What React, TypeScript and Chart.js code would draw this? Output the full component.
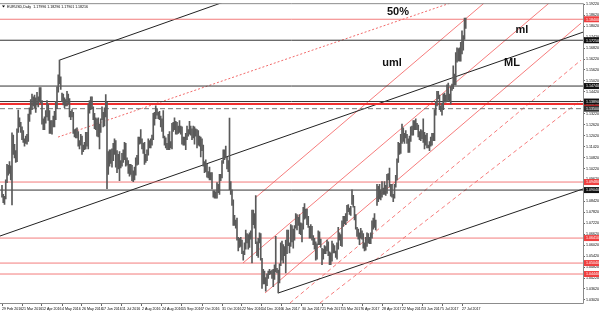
import { useEffect, useRef } from "react";
import { Chart, registerables } from "chart.js";
Chart.register(...registerables);

const dateLabels = [
  "29 Feb 2016", "21 Mar 2016", "12 Apr 2016", "4 May 2016", "26 May 2016", "17 Jun 2016",
  "11 Jul 2016", "2 Aug 2016", "24 Aug 2016", "15 Sep 2016", "7 Oct 2016", "31 Oct 2016",
  "22 Nov 2016", "14 Dec 2016", "6 Jan 2017", "30 Jan 2017", "21 Feb 2017", "15 Mar 2017",
  "6 Apr 2017", "28 Apr 2017", "22 May 2017", "13 Jun 2017", "5 Jul 2017", "27 Jul 2017",
];

const highs = [
  1.0930,
  1.0880,1.0870,1.0960,1.1045,1.1040,1.1060,1.1037,1.1218,1.1205,1.1155,1.1120,1.1240,1.1342,1.1300,1.1275,1.1250,1.1230,1.1185,1.1200,1.1210,1.1320,1.1355,1.1400,
  1.1430,1.1415,1.1425,1.1410,1.1440,1.1415,1.1465,1.1465,1.1395,1.1295,1.1305,1.1340,1.1395,1.1375,1.1340,1.1285,1.1285,1.1310,1.1335,1.1390,1.1470,
  1.1535,1.1616,1.1525,1.1435,1.1430,1.1410,1.1400,1.1445,1.1430,1.1405,1.1335,1.1345,1.1330,1.1235,1.1240,1.1245,1.1225,1.1175,1.1210,1.1200,1.1150,1.1165,
  1.1220,1.1220,1.1375,1.1395,1.1415,1.1415,1.1360,1.1325,1.1300,1.1295,1.1300,1.1265,1.1295,1.1360,1.1330,1.1355,1.1427,1.1385,1.1115,1.1125,1.1125,1.1130,
  1.1160,1.1185,1.1175,1.1120,1.1100,1.1115,1.1065,1.1105,1.1125,1.1165,1.1160,1.1080,1.1065,1.1045,1.1045,1.1040,1.1010,1.1030,1.1080,1.1095,1.1195,
  1.1195,1.1235,1.1185,1.1160,1.1165,1.1100,1.1125,1.1185,1.1175,1.1185,1.1205,1.1325,1.1330,1.1366,1.1350,1.1330,1.1335,1.1310,1.1295,1.1340,1.1200,1.1190,1.1160,
  1.1210,1.1225,1.1170,1.1270,1.1275,1.1300,1.1280,1.1275,1.1255,1.1285,1.1255,1.1250,1.1195,1.1195,1.1215,1.1255,1.1235,1.1280,1.1255,1.1240,1.1255,1.1250,
  1.1240,1.1235,1.1230,1.1200,1.1195,1.1185,1.1150,1.1060,1.1070,1.1045,1.1005,1.1030,1.1000,1.1000,1.0900,1.0900,1.0895,1.0945,1.0935,1.0990,1.0990,
  1.1065,1.1125,1.1125,1.1145,1.1085,1.1065,1.1299,1.0950,1.0905,1.0850,1.0765,1.0740,1.0750,1.0645,1.0640,1.0645,1.0630,1.0570,1.0615,1.0685,1.0665,1.0660,
  1.0670,1.0680,1.0795,1.0795,1.0775,1.0874,1.0620,1.0640,1.0670,1.0665,1.0530,1.0470,1.0460,1.0425,1.0445,1.0460,1.0470,1.0460,1.0465,1.0470,1.0495,1.0650,
  1.0475,1.0465,1.0500,1.0615,1.0625,1.0605,1.0595,1.0630,1.0685,1.0685,1.0615,1.0715,1.0710,1.0690,1.0710,1.0775,1.0770,1.0755,1.0770,1.0725,1.0720,1.0810,
  1.0830,1.0800,1.0800,1.0760,1.0705,1.0715,1.0705,1.0655,1.0640,1.0620,1.0610,1.0680,1.0675,1.0635,1.0585,1.0580,1.0600,1.0595,1.0630,1.0620,
  1.0565,1.0560,1.0625,1.0610,1.0600,1.0570,1.0615,1.0700,1.0670,1.0660,1.0735,1.0760,1.0760,1.0775,1.0820,1.0825,1.0805,1.0815,1.0905,1.0875,1.0815,1.0770,1.0700,
  1.0690,1.0670,1.0695,1.0680,1.0665,1.0615,1.0645,1.0670,1.0665,1.0645,1.0670,1.0735,1.0750,1.0775,1.0740,1.0935,1.0925,1.0935,1.0905,1.0950,
  1.0915,1.0950,1.0930,1.0990,1.0995,1.1025,1.0935,1.0935,1.0880,1.0935,1.0985,1.1075,1.1165,1.1160,1.1210,1.1265,1.1245,1.1215,1.1230,1.1210,1.1185,1.1200,1.1250,
  1.1255,1.1285,1.1285,1.1295,1.1270,1.1260,1.1225,1.1235,1.1230,1.1295,1.1220,1.1205,1.1215,1.1150,1.1170,1.1195,1.1215,1.1215,1.1345,1.1390,1.1445,1.1445,
  1.1425,1.1365,1.1380,1.1430,1.1435,1.1425,1.1480,1.1490,1.1430,1.1470,1.1485,1.1585,1.1540,1.1658,1.1683,1.1679,1.1684,1.1713,1.1777,1.1750,1.1846,
  1.1846,
];

const lows = [
  1.0865,
  1.0835,1.0826,1.0855,1.0945,1.0985,1.0995,1.0960,1.0822,1.1100,1.1080,1.1055,1.1060,1.1220,1.1250,1.1220,1.1180,1.1165,1.1145,1.1160,1.1155,1.1170,1.1280,1.1320,
  1.1345,1.1365,1.1355,1.1330,1.1370,1.1360,1.1385,1.1380,1.1265,1.1235,1.1235,1.1270,1.1305,1.1285,1.1215,1.1215,1.1210,1.1250,1.1250,1.1290,1.1350,
  1.1440,1.1485,1.1455,1.1390,1.1370,1.1355,1.1365,1.1365,1.1375,1.1305,1.1290,1.1305,1.1215,1.1195,1.1190,1.1190,1.1145,1.1130,1.1150,1.1100,1.1115,1.1125,
  1.1130,1.1145,1.1130,1.1325,1.1345,1.1350,1.1290,1.1240,1.1235,1.1200,1.1195,1.1130,1.1220,1.1290,1.1250,1.1255,1.1305,1.0912,1.0990,1.1035,1.1050,1.1030,
  1.1065,1.1100,1.1030,1.1000,1.1020,1.0955,1.1025,1.1035,1.1055,1.1070,1.1035,1.1040,1.0995,1.0980,1.0990,1.0955,1.0950,1.0960,1.0985,1.1040,1.1045,
  1.1155,1.1160,1.1130,1.1105,1.1045,1.1055,1.1065,1.1095,1.1135,1.1135,1.1150,1.1180,1.1260,1.1295,1.1315,1.1295,1.1290,1.1250,1.1225,1.1190,1.1150,1.1135,1.1125,
  1.1125,1.1125,1.1135,1.1130,1.1225,1.1235,1.1210,1.1210,1.1215,1.1220,1.1210,1.1155,1.1150,1.1150,1.1125,1.1180,1.1200,1.1210,1.1205,1.1180,1.1190,1.1155,
  1.1200,1.1135,1.1150,1.1145,1.1085,1.1120,1.1035,1.1000,1.1005,1.0975,1.0970,1.0960,1.0960,1.0910,1.0865,1.0860,1.0860,1.0860,1.0890,1.0880,1.0955,
  1.0970,1.1050,1.1070,1.1080,1.1020,1.1005,1.0906,1.0880,1.0820,1.0710,1.0710,1.0695,1.0630,1.0570,1.0590,1.0595,1.0555,1.0520,1.0550,1.0580,1.0615,1.0580,
  1.0590,1.0635,1.0505,1.0715,1.0695,1.0610,1.0545,1.0535,1.0615,1.0520,1.0365,1.0390,1.0390,1.0350,1.0380,1.0420,1.0440,1.0445,1.0420,1.0375,1.0415,1.0455,
  1.0450,1.0340,1.0395,1.0490,1.0520,1.0505,1.0545,1.0450,1.0555,1.0600,1.0560,1.0595,1.0620,1.0585,1.0630,1.0695,1.0685,1.0710,1.0665,1.0660,1.0620,1.0690,
  1.0745,1.0750,1.0715,1.0700,1.0640,1.0640,1.0630,1.0605,1.0580,1.0520,1.0525,1.0605,1.0605,1.0590,1.0495,1.0525,1.0555,1.0555,1.0570,1.0545,
  1.0495,1.0495,1.0515,1.0560,1.0560,1.0535,1.0525,1.0580,1.0630,1.0600,1.0595,1.0705,1.0720,1.0715,1.0735,1.0785,1.0770,1.0765,1.0825,1.0810,1.0740,1.0690,1.0650,
  1.0635,1.0605,1.0640,1.0635,1.0585,1.0570,1.0575,1.0595,1.0615,1.0610,1.0610,1.0640,1.0690,1.0700,1.0685,1.0820,1.0840,1.0855,1.0850,1.0865,
  1.0880,1.0880,1.0875,1.0885,1.0960,1.0920,1.0870,1.0865,1.0840,1.0860,1.0920,1.0960,1.1055,1.1100,1.1105,1.1160,1.1170,1.1160,1.1190,1.1160,1.1110,1.1110,1.1170,
  1.1205,1.1205,1.1235,1.1235,1.1235,1.1195,1.1180,1.1175,1.1185,1.1165,1.1130,1.1150,1.1135,1.1135,1.1120,1.1145,1.1150,1.1175,1.1175,1.1315,1.1365,1.1405,
  1.1345,1.1335,1.1315,1.1345,1.1385,1.1385,1.1390,1.1395,1.1390,1.1375,1.1450,1.1460,1.1480,1.1480,1.1605,1.1612,1.1611,1.1610,1.1650,1.1670,1.1730,
  1.1790,
];

const yTickValues = [
  1.1922, 1.1862, 1.1802, 1.1742, 1.1682, 1.1622, 1.1562, 1.1502, 1.1442, 1.1382,
  1.1322, 1.1262, 1.1202, 1.1142, 1.1082, 1.1022, 1.0962, 1.0902, 1.0842, 1.0782,
  1.0722, 1.0662, 1.0602, 1.0542, 1.0482, 1.0422, 1.0362, 1.0302,
];

const redLevels = [1.1840, 1.0948, 1.0641, 1.0504, 1.0444];
const strongRedLevels = [1.1375];
const blackLevels = [1.1725, 1.1474, 1.1389, 1.0904];
const dashedLevels = [1.1350];

// trend lines as [barIndex1, price1, barIndex2, price2]
const blackForkLines = [
  [46, 1.1616, 190, 1.1965],
  [-1.6, 1.06522, 464.8, 1.17693],
  [221, 1.0340, 464.8, 1.0910],
];
const fiftyPercentLines = [[44.8, 1.11943, 358.4, 1.19282]];
const redSolidLines = [
  [202.4, 1.08603, 385.6, 1.19282],
  [192.8, 1.05043, 437.6, 1.19282],
  [210.4, 1.0340, 463.2, 1.18186],
];
const redDashedLines = [
  [230.4, 1.02852, 463.2, 1.1616],
  [254.4, 1.02852, 463.2, 1.1397],
];

const lineNames = ["50%", "uml", "ml", "ML"];
const lineNameAnchors = [[316.8, 1.1879], [312, 1.16], [416, 1.178], [408, 1.16]];

const titleText = "EURUSD,Daily  1.17996 1.18296 1.17901 1.18216";

const X_MIN = -1.6;
const X_MAX = 464.8;
const SMALL_FONT = "'Liberation Sans', Arial, sans-serif";

export default function App() {
  const ref = useRef<HTMLCanvasElement | null>(null);

  useEffect(() => {
    document.body.style.margin = "0";
    const canvas = ref.current;
    if (!canvas) return;

    const seg = (l: number[]) => [
      { x: l[0], y: l[1] },
      { x: l[2], y: l[3] },
    ];
    const hseg = (p: number) => [
      { x: X_MIN, y: p },
      { x: X_MAX, y: p },
    ];

    const datasets: any[] = [];
    const addLine = (pts: any[], color: string, width: number, dash: number[] = []) => {
      datasets.push({
        type: "line",
        data: pts,
        borderColor: color,
        borderWidth: width,
        borderDash: dash,
        pointRadius: 0,
        fill: false,
        tension: 0,
        order: 2,
      });
    };

    redLevels.forEach((p) => addLine(hseg(p), "rgba(240,100,100,0.85)", 1));
    strongRedLevels.forEach((p) => addLine(hseg(p), "#f03030", 2));
    blackLevels.forEach((p) => addLine(hseg(p), "#333333", 1));
    dashedLevels.forEach((p) => addLine(hseg(p), "#777777", 1, [5, 3]));
    blackForkLines.forEach((l) => addLine(seg(l), "#222222", 1));
    fiftyPercentLines.forEach((l) => addLine(seg(l), "rgba(240,90,90,0.9)", 1, [2, 2]));
    redSolidLines.forEach((l) => addLine(seg(l), "rgba(245,110,110,0.9)", 1));
    redDashedLines.forEach((l) => addLine(seg(l), "rgba(245,110,110,0.9)", 1, [4, 3]));

    datasets.push({
      type: "bar",
      data: highs.map((h, i) => ({ x: i, y: [lows[i], h] })),
      backgroundColor: "#5a5a5a",
      borderWidth: 0,
      barThickness: 1,
      grouped: false,
      order: 1,
    });

    const overlay = {
      id: "overlay",
      afterDraw(chart: any) {
        const { ctx, chartArea, scales } = chart;
        const ys = scales.y;
        const xs = scales.x;
        ctx.save();
        ctx.strokeStyle = "#8c8c8c";
        ctx.lineWidth = 1;
        ctx.beginPath();
        ctx.moveTo(chartArea.left, chartArea.top + 0.5);
        ctx.lineTo(chartArea.right + 0.5, chartArea.top + 0.5);
        ctx.lineTo(chartArea.right + 0.5, chartArea.bottom + 0.5);
        ctx.lineTo(chartArea.left, chartArea.bottom + 0.5);
        ctx.stroke();

        ctx.fillStyle = "#000";
        ctx.font = `3.6px ${SMALL_FONT}`;
        ctx.textBaseline = "middle";
        ctx.textAlign = "left";
        ctx.beginPath();
        ctx.moveTo(2, 5.5);
        ctx.lineTo(5, 5.5);
        ctx.lineTo(3.5, 7.5);
        ctx.closePath();
        ctx.fill();
        ctx.fillText(titleText, 7, 6.5);

        const box = (p: number, color: string) => {
          const y = ys.getPixelForValue(p);
          ctx.fillStyle = color;
          ctx.fillRect(chartArea.right + 1, y - 3, 15, 6);
          ctx.fillStyle = "#fff";
          ctx.font = `3.6px ${SMALL_FONT}`;
          ctx.textAlign = "left";
          ctx.fillText(p.toFixed(5), chartArea.right + 3, y + 0.3);
        };
        redLevels.forEach((p) => box(p, "#f04040"));
        strongRedLevels.forEach((p) => box(p, "#f01e1e"));
        blackLevels.forEach((p) => box(p, "#111"));
        dashedLevels.forEach((p) => box(p, "#333"));

        ctx.fillStyle = "#111";
        ctx.font = `bold 11px ${SMALL_FONT}`;
        ctx.textAlign = "center";
        lineNames.forEach((t, k) => {
          const a = lineNameAnchors[k];
          ctx.fillText(t, xs.getPixelForValue(a[0]), ys.getPixelForValue(a[1]));
        });
        ctx.restore();
      },
    };

    const chart = new Chart(canvas, {
      type: "bar",
      data: { datasets },
      options: {
        animation: false,
        responsive: false,
        events: [],
        layout: { padding: { top: 3, left: 0, right: 0, bottom: 0 } },
        plugins: { legend: { display: false }, tooltip: { enabled: false } },
        scales: {
          x: {
            type: "linear",
            min: X_MIN,
            max: X_MAX,
            offset: false,
            afterBuildTicks: (s: any) => {
              s.ticks = dateLabels.map((_, k) => ({ value: k * 16 }));
            },
            afterFit: (s: any) => {
              s.height = 10;
            },
            ticks: {
              autoSkip: false,
              maxRotation: 0,
              minRotation: 0,
              align: "start",
              padding: 1,
              color: "#000",
              font: { size: 3.6, family: SMALL_FONT },
              callback: (v: any) => dateLabels[Math.round(Number(v) / 16)] ?? "",
            },
            grid: { drawOnChartArea: false, tickLength: 3, color: "#666", offset: false },
            border: { display: false },
          },
          y: {
            type: "linear",
            position: "right",
            min: 1.02852,
            max: 1.19282,
            afterBuildTicks: (s: any) => {
              s.ticks = yTickValues.map((v) => ({ value: v }));
            },
            afterFit: (s: any) => {
              s.width = 17;
            },
            ticks: {
              autoSkip: false,
              padding: 1,
              color: "#000",
              font: { size: 3.6, family: SMALL_FONT },
              callback: (v: any) => Number(v).toFixed(5),
            },
            grid: { drawOnChartArea: false, tickLength: 2, color: "#666" },
            border: { display: false },
          },
        },
      },
      plugins: [overlay],
    } as any);

    return () => chart.destroy();
  }, []);

  return <canvas ref={ref} width={600} height={313} style={{ display: "block", width: 600, height: 313 }} />;
}
